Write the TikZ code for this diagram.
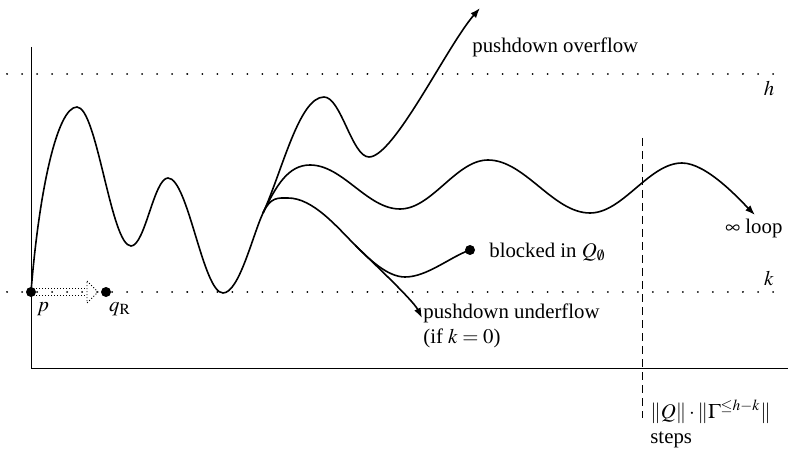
\documentclass[tikz,border=0pt]{standalone}
\usepackage{mathptmx}
\usepackage{fontspec}
\setmainfont{Liberation Serif}
\usetikzlibrary{arrows.meta}

\begin{document}
\begin{tikzpicture}[
  x=0.5pt, y=-0.5pt,
  font=\fontsize{10.4}{12.5}\selectfont,
  >={Latex[length=5pt,width=3.6pt]},
  axis/.style  = {line width=0.5pt},
  level/.style = {line width=1pt, dash pattern=on 0.01pt off 7.5pt, line cap=round},
  bound/.style = {line width=0.5pt, dash pattern=on 4pt off 2.5pt},
  run/.style   = {line width=0.8pt},
  dot/.style   = {circle, fill, inner sep=0pt, minimum size=5pt},
  weak/.style  = {line width=0.5pt, densely dotted},
  lab/.style   = {anchor=west, inner sep=0pt, align=left}
]
\useasboundingbox (0,0) rectangle (788,449);

%% ===== axes and levels =====
\coordinate (top) at (31,47);
\coordinate (orig) at (31,368);
\coordinate (far) at (788,368);
\coordinate (hl) at (7,74);  \coordinate (hr) at (788,74);
\coordinate (kl) at (7,292); \coordinate (kr) at (788,292);
\draw[axis] (top) -- (orig) -- (far);
\draw[level] (hl) -- (hr);
\draw[level] (kl) -- (kr);
\node (hlab) at (769,88) {$h$};
\node (klab) at (769,278) {$k$};

\coordinate (btop) at (642,138);
\coordinate (bbot) at (642,418);
\draw[bound] (btop) -- (bbot);

%% ===== run from p =====
\node[dot] (p) at (31,292) {};
\node[dot] (qR) at (106,292) {};
\node (plab) at (43,309) {$p$};
\node (qlab) at (120,309) {$q_{\mathrm{R}}$};
% dotted double arrow p -> qR
\coordinate (head) at (87,292);
\coordinate (tip) at (98,292);
\draw[weak] ([yshift=1.6pt]p.east) -- ([yshift=1.6pt]head);
\draw[weak] ([yshift=-1.6pt]p.east) -- ([yshift=-1.6pt]head);
\draw[weak, line width=0.4pt] ([yshift=5.5pt]head) -- (tip) -- ([yshift=-5.5pt]head) -- cycle;

\draw[run] (p.center) .. controls +(8,-100) and +(-20,0) .. (77,107)
  .. controls +(20,0) and +(-20,0) .. (131,246)
  .. controls +(14,0) and +(-14,0) .. (168,178)
  .. controls +(20,0) and +(-20,0) .. (223,293)
  .. controls +(16,0) and +(-10.5,22.7) .. (263,213) coordinate (fork);

% overflow
\draw[run,->] (fork) .. controls +(19,-41) and +(-25,0) .. (324,97)
  .. controls +(17,0) and +(-17,0) .. (369,157)
  .. controls +(25,0) and +(-33,38) .. (480,8);
% loop
\draw[run,->] (fork) .. controls +(13,-27) and +(-22,0) .. (310,165)
  .. controls +(33,0) and +(-33,0) .. (400,209)
  .. controls +(32,0) and +(-32,0) .. (488,160)
  .. controls +(37,0) and +(-37,0) .. (590,213)
  .. controls +(33,0) and +(-33,0) .. (682,163)
  .. controls +(25,0) and +(-14,-14) .. (755,215);
% blocked / underflow
\node[dot] (blk) at (470,250) {};
\draw[run] (fork) .. controls +(7.6,-16.4) and +(-10,0) .. (288,198)
  .. controls +(25,0) and +(-18,-18) .. (355,245) coordinate (split);
\draw[run] (split) .. controls +(13,13) and +(-18,0) .. (405,277)
  .. controls +(22,0) and +(-20,7) .. (blk.center);
\draw[run,->] (split) .. controls +(12,12) and +(-9,-18) .. (422,318);

%% ===== labels =====
\node[lab] (over) at (472,47) {pushdown overflow};
\node[lab] (block) at (489,252) {blocked in $Q_{\emptyset}$};
\node[lab] (loop) at (725,228) {$\infty$ loop};
\node[lab] (under) at (423,326) {pushdown underflow\\(if $k=0$)};
\node[lab] (steps) at (650,424) {$\|Q\|\cdot\|\Gamma^{\le h-k}\|$\\steps};

\end{tikzpicture}
\end{document}
